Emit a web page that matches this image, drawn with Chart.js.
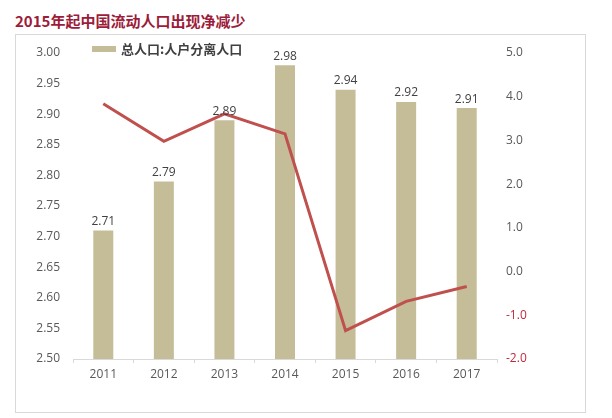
<!DOCTYPE html>
<html>
<head>
<meta charset="utf-8">
<script src="https://cdn.jsdelivr.net/npm/chart.js@4"></script>
<style>
  body { margin: 0; background: #fff; }
  #title {
    position: absolute; left: 15px; top: 11px;
    font: bold 15px "Noto Sans CJK SC", sans-serif;
    color: #9c1c3a; line-height: 20px;
  }
  #box {
    position: absolute; left: 15px; top: 34px;
    width: 569px; height: 377px;
    border: 1px solid #d9d9d9;
  }
</style>
</head>
<body>
<div id="title">2015年起中国流动人口出现净减少</div>
<div id="box"><canvas id="chart"></canvas></div>
<script>
// Data
var years = ["2011", "2012", "2013", "2014", "2015", "2016", "2017"];
var ratio = [2.71, 2.79, 2.89, 2.98, 2.94, 2.92, 2.91];
var growth = [3.84, 2.98, 3.61, 3.15, -1.35, -0.68, -0.34];
var ratioLabel = "总人口:人户分离人口";
var growthLabel = "增速";

var fontFamily = "'Open Sans', 'Noto Sans CJK SC', sans-serif";
var tickGray = "#595959";
var negRed = "#c0283c";

// value labels above the bars
var barLabels = {
  id: "barLabels",
  afterDatasetsDraw: function (chart) {
    var ctx = chart.ctx;
    var meta = chart.getDatasetMeta(1);
    ctx.save();
    ctx.font = "12px " + fontFamily;
    ctx.fillStyle = "#404040";
    ctx.textAlign = "center";
    ctx.textBaseline = "bottom";
    meta.data.forEach(function (bar, i) {
      ctx.fillText(ratio[i].toFixed(2), bar.x, bar.y - 3);
    });
    ctx.restore();
  }
};

// legend for the bar series only, sitting at the top of the plot
var topLegend = {
  id: "topLegend",
  afterDraw: function (chart) {
    var ctx = chart.ctx;
    var ds = chart.data.datasets[1];
    var x = chart.chartArea.left + 19;
    var y = chart.chartArea.top - 4;
    ctx.save();
    ctx.fillStyle = ds.backgroundColor;
    ctx.fillRect(x, y - 3, 24, 6);
    ctx.font = "bold 13px 'Noto Sans CJK SC', sans-serif";
    ctx.fillStyle = "#404040";
    ctx.textBaseline = "middle";
    ctx.fillText(ds.label, x + 29, y);
    ctx.restore();
  }
};

var chart = new Chart(document.getElementById("chart"), {
  data: {
    labels: years,
    datasets: [
      {
        type: "line",
        label: growthLabel,
        data: growth,
        yAxisID: "y1",
        borderColor: "#c0504d",
        borderWidth: 3,
        pointRadius: 0,
        tension: 0,
        order: 0
      },
      {
        type: "bar",
        label: ratioLabel,
        data: ratio,
        yAxisID: "y",
        backgroundColor: "#c4bd97",
        categoryPercentage: 1,
        barPercentage: 0.33,
        order: 1
      }
    ]
  },
  options: {
    responsive: true,
    maintainAspectRatio: false,
    animation: false,
    layout: { padding: { top: 18, left: 0, right: 0, bottom: 0 } },
    plugins: {
      legend: { display: false },
      tooltip: { enabled: false }
    },
    scales: {
      x: {
        offset: true,
        grid: {
          display: true,
          offset: true,
          drawOnChartArea: false,
          tickLength: 4,
          color: "#d9d9d9"
        },
        border: { color: "#d9d9d9" },
        ticks: {
          color: tickGray,
          padding: 4,
          font: { size: 12, family: fontFamily }
        },
        afterFit: function (scale) { scale.height = 53; }
      },
      y: {
        position: "left",
        min: 2.5,
        max: 3.0,
        grid: { display: false },
        border: { display: false },
        ticks: {
          stepSize: 0.05,
          padding: 5,
          color: tickGray,
          font: { size: 12, family: fontFamily },
          callback: function (v) { return v.toFixed(2); }
        },
        afterFit: function (scale) { scale.width = 57; }
      },
      y1: {
        position: "right",
        min: -2,
        max: 5,
        grid: { display: false },
        border: { display: false },
        ticks: {
          stepSize: 1,
          padding: 1,
          color: function (c) { return c.tick.value < 0 ? negRed : tickGray; },
          font: { size: 12, family: fontFamily },
          callback: function (v) { return v.toFixed(1); }
        },
        afterFit: function (scale) { scale.width = 88; }
      }
    }
  },
  plugins: [barLabels, topLegend]
});
</script>
</body>
</html>
